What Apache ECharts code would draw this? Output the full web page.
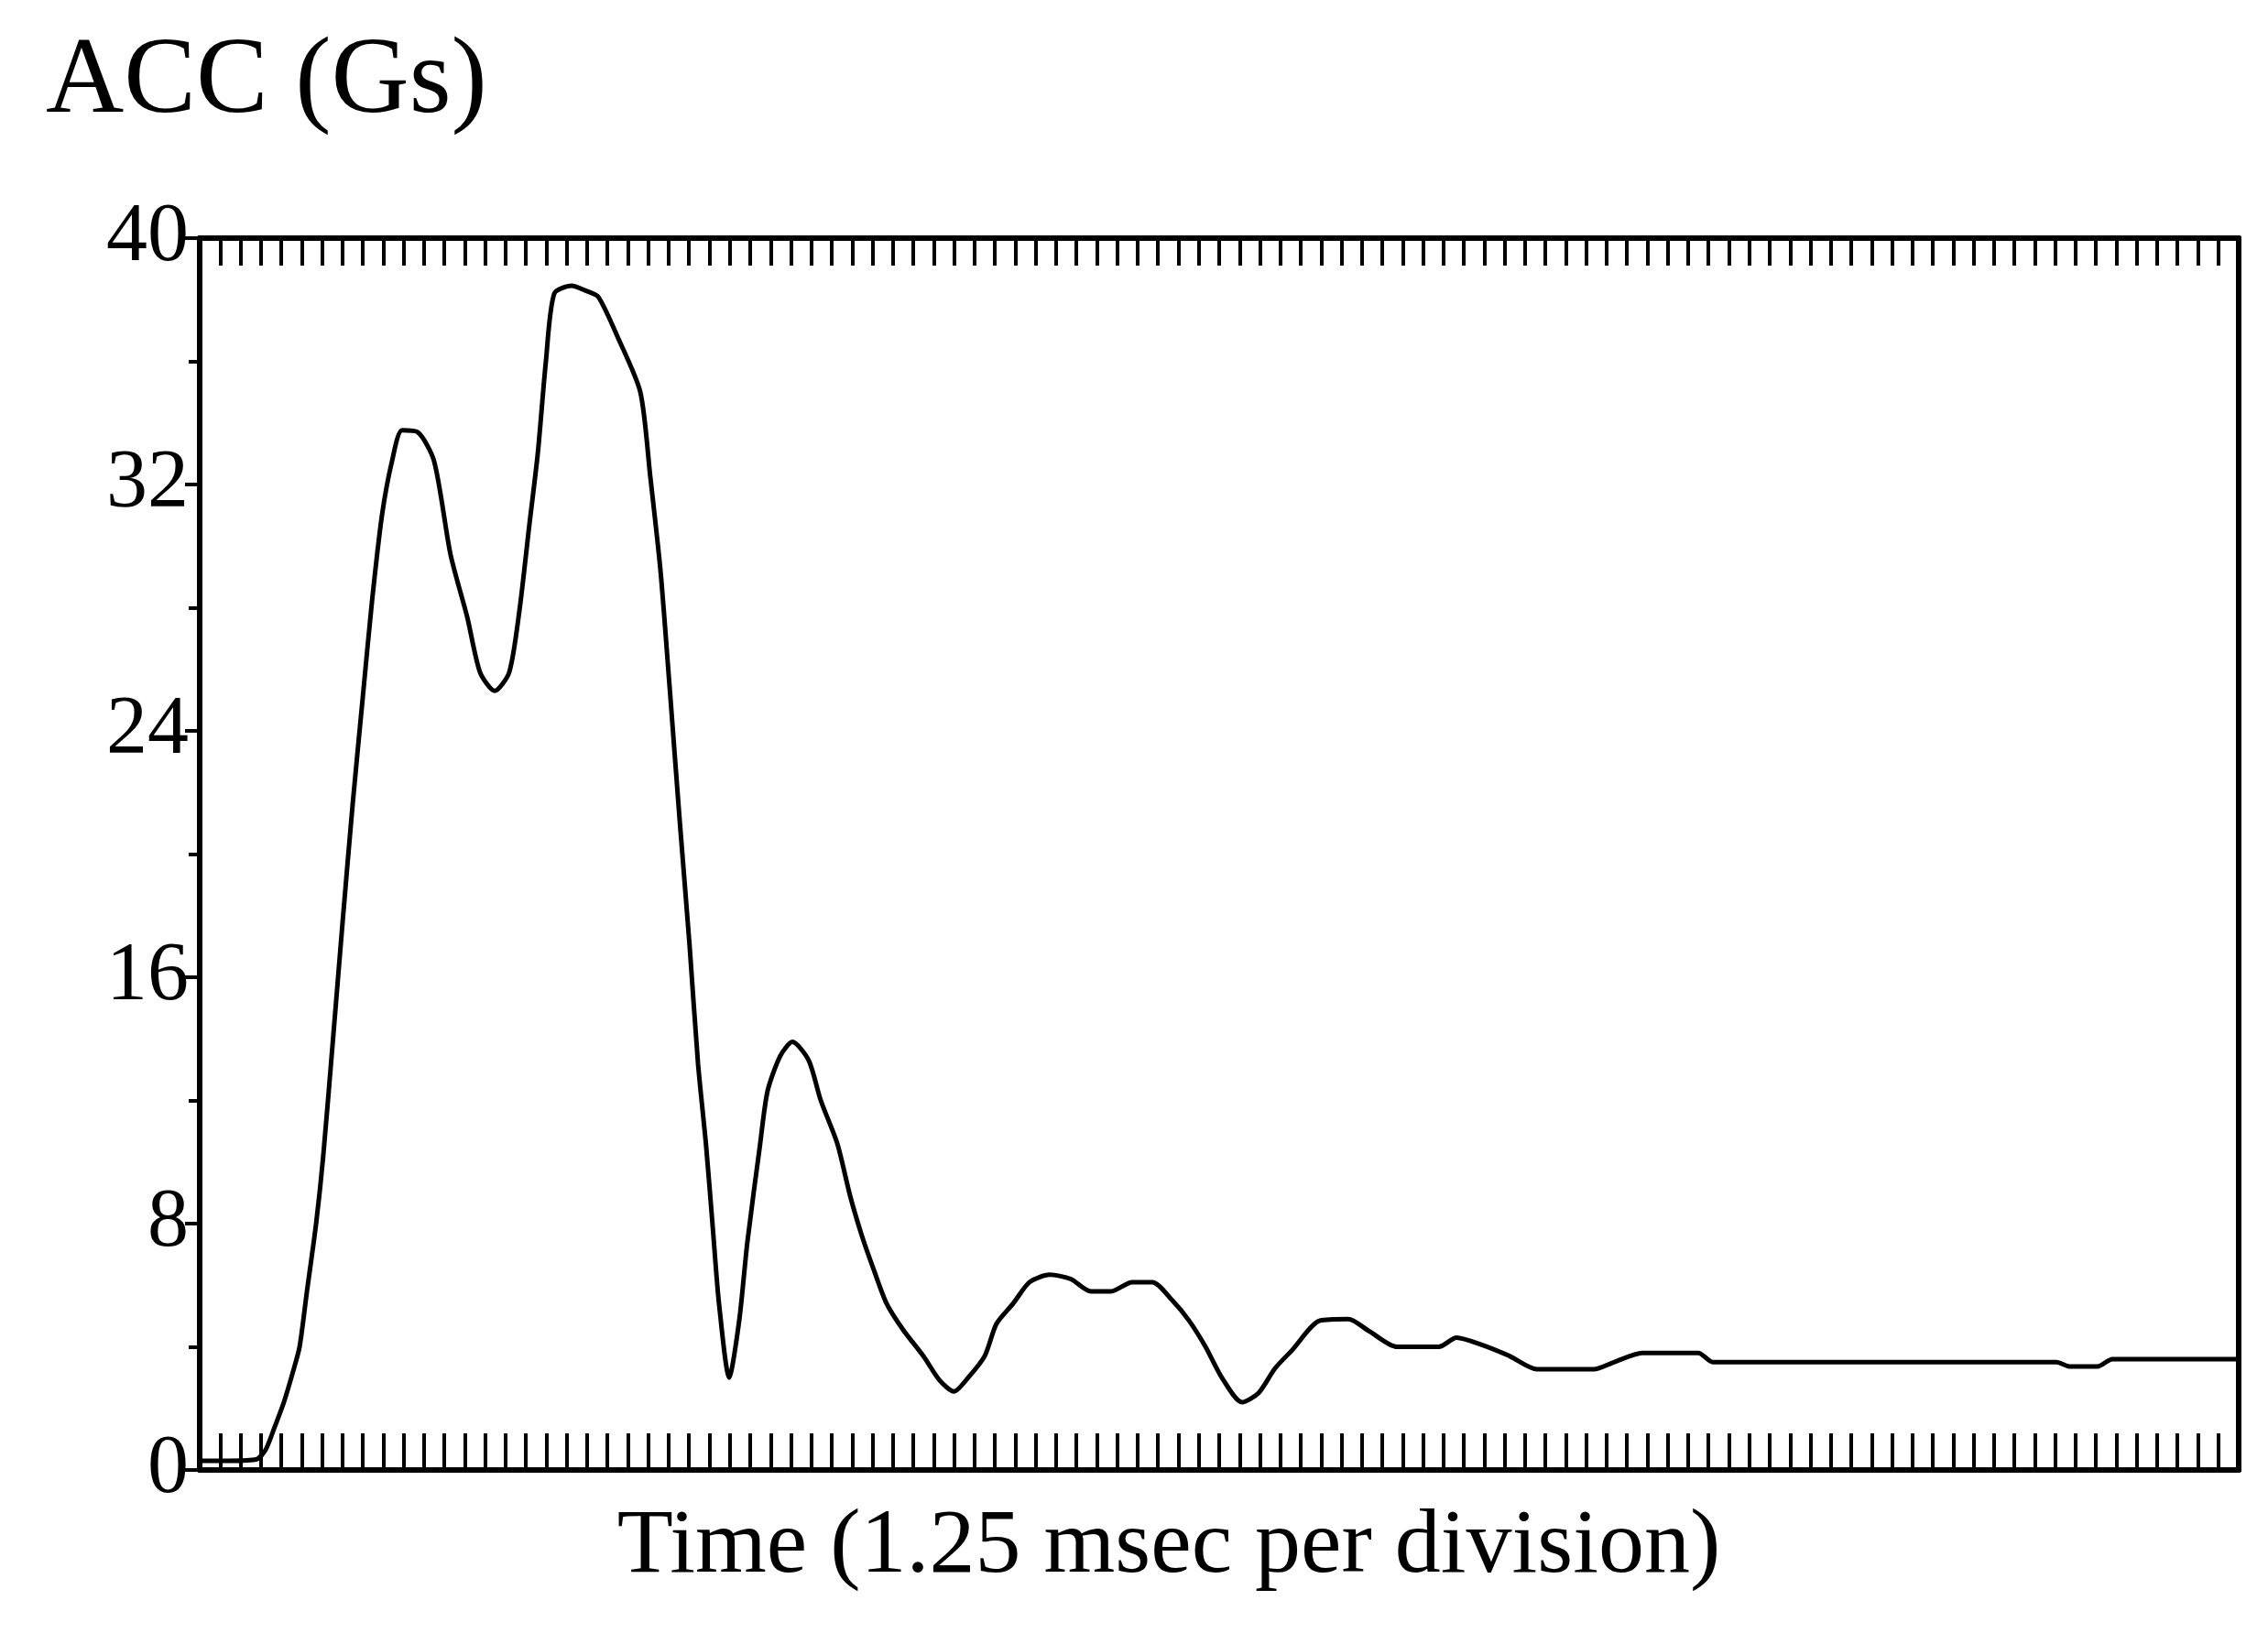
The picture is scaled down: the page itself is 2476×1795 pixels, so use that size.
<!DOCTYPE html>
<html>
<head>
<meta charset="utf-8">
<script src="https://cdn.jsdelivr.net/npm/echarts@6/dist/echarts.min.js"></script>
<style>
html,body{margin:0;padding:0;background:#fff;}
#chart{width:2476px;height:1795px;}
</style>
</head>
<body>
<div id="chart"></div>
<script>
// Time in divisions (0..100 minor divisions across the frame)
const timeDiv = [0, 1.44, 2.79, 3.23, 3.68, 4.13, 4.58, 4.9, 5.26, 5.71, 6.06, 6.54, 7.01, 7.5, 8.0, 8.45, 8.94, 9.43, 9.93, 10.69, 11.5, 12.31, 13.12, 13.75, 14.47, 15.18, 15.68, 16.17, 16.58, 16.98, 17.39, 18.24, 18.91, 19.54, 20.49, 21.61, 22.1, 22.6, 23.05, 23.54, 24.03, 24.44, 24.84, 25.16, 25.47, 25.97, 26.46, 26.86, 27.47, 27.85, 28.48, 29.07, 29.87, 30.46, 31.27, 31.9, 32.48, 33.06, 33.69, 34.5, 35.49, 36.3, 36.99, 37.69, 38.5, 39.08, 39.89, 40.7, 41.69, 42.72, 43.71, 44.7, 45.73, 46.72, 47.71, 48.52, 49.33, 50.13, 51.12, 51.93, 52.74, 53.59, 54.94, 56.33, 57.37, 58.72, 60.78, 61.64, 62.85, 64.24, 65.59, 68.37, 69.36, 70.75, 73.5, 74.21, 80.0, 86.0, 91.06, 91.73, 93.08, 93.8, 100];
// Acceleration in Gs
const accG = [0.3, 0.3, 0.35, 0.65, 1.4, 2.2, 3.2, 4.0, 5.8, 8.0, 10.2, 14.0, 17.8, 21.6, 25.1, 28.2, 31.0, 32.75, 33.76, 33.7, 32.75, 29.7, 27.7, 25.9, 25.3, 25.9, 27.9, 30.7, 33.0, 36.0, 38.2, 38.45, 38.3, 38.1, 36.8, 35.0, 32.25, 29.2, 25.4, 21.1, 17.0, 13.2, 10.5, 7.9, 5.4, 3.0, 4.85, 7.4, 10.5, 12.3, 13.45, 13.9, 13.3, 12.0, 10.6, 8.9, 7.6, 6.5, 5.4, 4.55, 3.7, 2.9, 2.55, 3.0, 3.7, 4.75, 5.4, 6.1, 6.34, 6.2, 5.8, 5.8, 6.1, 6.1, 5.5, 4.85, 4.0, 3.0, 2.2, 2.5, 3.3, 3.9, 4.85, 4.9, 4.5, 4.0, 4.0, 4.3, 4.07, 3.7, 3.27, 3.27, 3.5, 3.8, 3.8, 3.5, 3.5, 3.5, 3.5, 3.36, 3.36, 3.6, 3.6];
const yTicks = [0, 8, 16, 24, 32, 40];
const yTitle = 'ACC (Gs)';
const xTitle = 'Time (1.25 msec per division)';

const chart = echarts.init(document.getElementById('chart'), null, {renderer: 'canvas'});
const serif = '"Liberation Serif", "Times New Roman", serif';
const points = timeDiv.map((t, i) => [t, accG[i]]);

chart.setOption({
  animation: false,
  backgroundColor: '#ffffff',
  grid: {left: 218, right: 32, top: 260, bottom: 190, show: false},
  graphic: [
    {type: 'text', left: 50, top: 32, style: {text: yTitle, font: '118px ' + serif, fill: '#000'}},
    {type: 'text', x: 1276, y: 1690, style: {text: xTitle, font: '100px ' + serif, fill: '#000', textAlign: 'center', textVerticalAlign: 'middle'}}
  ],
  xAxis: [
    {
      type: 'value', position: 'bottom', min: 0, max: 100, interval: 1,
      axisLine: {show: true, lineStyle: {color: '#000', width: 6}},
      axisTick: {show: true, inside: true, length: 40, lineStyle: {color: '#000', width: 4}},
      axisLabel: {show: false}, splitLine: {show: false}
    },
    {
      type: 'value', position: 'top', min: 0, max: 100, interval: 1,
      axisLine: {show: true, onZero: false, lineStyle: {color: '#000', width: 6}},
      axisTick: {show: true, inside: true, length: 30, lineStyle: {color: '#000', width: 4}},
      axisLabel: {show: false}, splitLine: {show: false}
    }
  ],
  yAxis: [
    {
      type: 'value', position: 'left', min: yTicks[0], max: yTicks[yTicks.length - 1], interval: 8,
      axisLine: {show: true, onZero: false, lineStyle: {color: '#000', width: 6}},
      axisTick: {show: true, inside: false, length: 16, lineStyle: {color: '#000', width: 4}},
      minorTick: {show: true, splitNumber: 2, length: 12, lineStyle: {color: '#000', width: 4}},
      axisLabel: {show: true, margin: 12, color: '#000', fontFamily: serif, fontSize: 90,
        formatter: v => yTicks.includes(v) ? String(v) : ''},
      splitLine: {show: false}
    },
    {
      type: 'value', position: 'right', min: 0, max: 40,
      axisLine: {show: true, onZero: false, lineStyle: {color: '#000', width: 6}},
      axisTick: {show: false}, axisLabel: {show: false}, splitLine: {show: false}
    }
  ],
  series: [{
    type: 'line', data: points, xAxisIndex: 0, yAxisIndex: 0,
    showSymbol: false, smooth: 0.25,
    lineStyle: {color: '#000', width: 5}
  }]
});
</script>
</body>
</html>
